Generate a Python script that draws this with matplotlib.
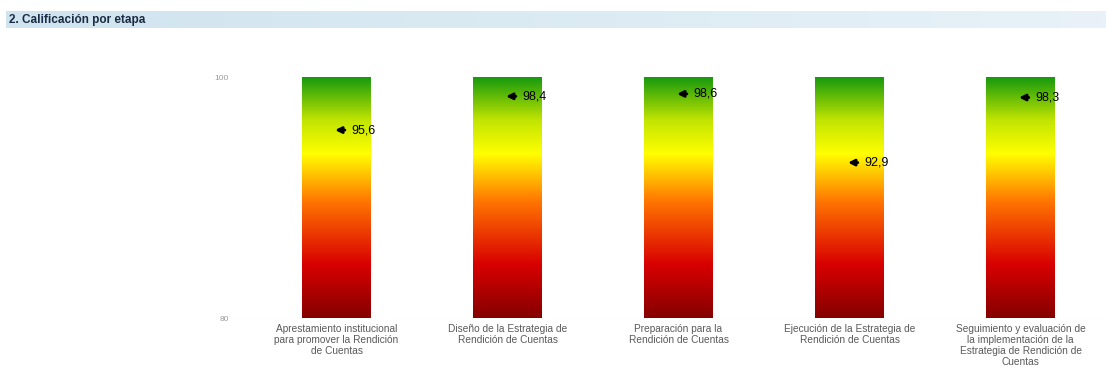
import numpy as np
import matplotlib
matplotlib.use('Agg')
import matplotlib.pyplot as plt
from matplotlib.colors import LinearSegmentedColormap

# etapas y calificaciones
etapas = [
    'Aprestamiento institucional\npara promover la Rendición\nde Cuentas',
    'Diseño de la Estrategia de\nRendición de Cuentas',
    'Preparación para la\nRendición de Cuentas',
    'Ejecución de la Estrategia de\nRendición de Cuentas',
    'Seguimiento y evaluación de\nla implementación de la\nEstrategia de Rendición de\nCuentas',
]
calificacion = [95.6, 98.4, 98.6, 92.9, 98.3]
y_min, y_max = 80, 100

plt.rcParams['font.family'] = ['Liberation Sans', 'DejaVu Sans']

# escala de color tipo semaforo (rojo abajo, verde arriba)
semaforo = LinearSegmentedColormap.from_list('semaforo', [
    (0.00, '#850000'),
    (0.22, '#d80000'),
    (0.48, '#ff7400'),
    (0.68, '#ffff00'),
    (0.82, '#c0e400'),
    (1.00, '#14980e'),
])

fig = plt.figure(figsize=(11.06, 3.87), dpi=100)

# franja del titulo
band = fig.add_axes([0.005, 0.927, 0.995, 0.045])
grad = np.linspace(0, 1, 256).reshape(1, -1)
band.imshow(grad, aspect='auto', cmap=LinearSegmentedColormap.from_list(
    'banda', ['#cfe4ef', '#e8f2f8']), extent=[0, 1, 0, 1])
band.set_axis_off()
band.text(0.003, 0.5, '2. Calificación por etapa', fontsize=8.5,
          color='#1c2b45', fontweight='bold', va='center', ha='left',
          transform=band.transAxes)

ax = fig.add_axes([0.208, 0.178, 0.792, 0.623])
x = np.arange(len(etapas))
ancho = 0.40
ax.set_xlim(-0.623, 4.5)
ax.set_ylim(y_min, y_max)

gradiente = np.linspace(0, 1, 256).reshape(-1, 1)
for xi in x:
    ax.imshow(gradiente, aspect='auto', cmap=semaforo, origin='lower',
              extent=[xi - ancho / 2, xi + ancho / 2, y_min, y_max], zorder=2)

# indicador de la calificacion
for xi, v in zip(x, calificacion):
    ax.annotate('', xy=(xi - 0.025, v), xytext=(xi + 0.065, v),
                arrowprops=dict(arrowstyle='-|>', color='black', lw=2.0,
                                mutation_scale=9), zorder=4)
    ax.text(xi + 0.085, v, f'{v:.1f}'.replace('.', ','), fontsize=9,
            color='black', va='center', ha='left', zorder=5)

ax.axhline(y_min, color='#e4e4e4', lw=0.8, zorder=1)

ax.set_yticks([y_min, y_max])
ax.set_yticklabels(['80', '100'], fontsize=6, color='#9a9a9a')
ax.tick_params(axis='y', length=0, pad=1)
ax.set_xticks(x)
ax.set_xticklabels(etapas, fontsize=7.3, color='#5a5a5a', linespacing=1.15)
ax.tick_params(axis='x', length=0, pad=4)
for s in ax.spines.values():
    s.set_visible(False)

fig.savefig('out.png', dpi=100)
